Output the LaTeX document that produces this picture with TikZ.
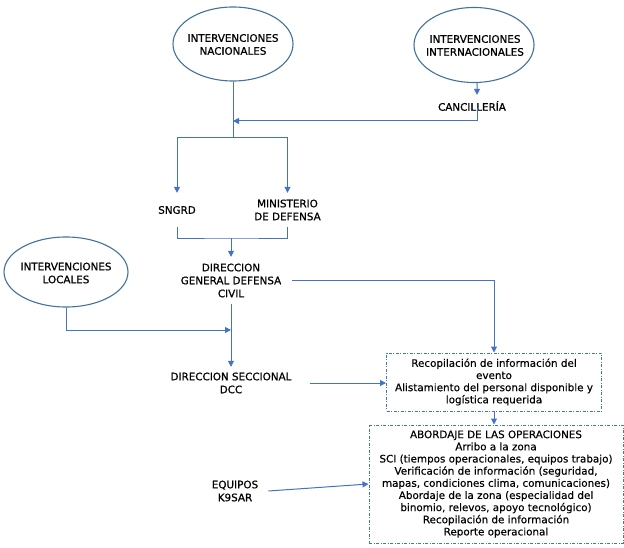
\documentclass[tikz,border=0pt]{standalone}
\usepackage{fontspec}
\setmainfont{DejaVu Sans}
\newfontfamily\lblfont{DejaVu Sans}[FakeBold=0.8]
\newfontfamily\boxfont{DejaVu Sans}[FakeBold=0.35]
\usetikzlibrary{shapes.geometric,arrows.meta}
\definecolor{lineblue}{HTML}{4472C4}
\definecolor{ellblue}{HTML}{41719C}
\begin{document}
\begin{tikzpicture}[x=1bp,y=-1bp,
  lbl/.style={font=\lblfont\fontsize{10.4}{13}\selectfont, align=center, inner sep=0pt, text=black},
  oval/.style={ellipse, draw=ellblue, line width=1.1bp, inner sep=0pt},
  dbox/.style={draw=lineblue, line width=1bp, dash pattern=on 3bp off 1.5bp on 1bp off 1.5bp,
    align=center, inner sep=0pt, text=black, font=\boxfont\fontsize{10.4}{12.2}\selectfont},
  conn/.style={draw=lineblue, line width=1bp},
  arr/.style={conn, -{Triangle[length=6bp,width=6bp]}}]
\useasboundingbox (0,0) rectangle (624,548);

% ellipses
\node[oval, minimum width=120bp, minimum height=74bp] (nac) at (233,44) {};
\node[lbl] (nact) at (233,44.5) {INTERVENCIONES\\NACIONALES};
\node[oval, minimum width=120bp, minimum height=75bp] (intl) at (474,45) {};
\node[lbl] (intlt) at (475,45.5) {INTERVENCIONES\\INTERNACIONALES};
\node[oval, minimum width=124bp, minimum height=70bp] (loc) at (66,272) {};
\node[lbl] (loct) at (66,273) {INTERVENCIONES\\LOCALES};

% labels
\node[lbl] (canc) at (472,106) {CANCILLERÍA};
\node[lbl, minimum height=34bp] (sngrd) at (177,210) {SNGRD};
\node[lbl, minimum height=34bp] (mind) at (287.5,210) {MINISTERIO\\DE DEFENSA};
\node[lbl, minimum height=47bp, inner xsep=11bp] (dgdc) at (231,280.5) {DIRECCION\\GENERAL DEFENSA\\CIVIL};
\node[lbl, minimum height=32bp, inner xsep=18bp] (dsec) at (231,383) {DIRECCION SECCIONAL\\DCC};
\node[lbl, inner xsep=10bp] (equip) at (235,491) {EQUIPOS\\K9SAR};

% boxes
\node[dbox, minimum width=215bp, minimum height=58bp] (box1) at (494,382)
  {Recopilación de información del\\evento\\Alistamiento del personal disponible y\\logística requerida};
\node[dbox, minimum width=254bp, minimum height=118bp] (box2) at (496,484)
  {ABORDAJE DE LAS OPERACIONES\\Arribo a la zona\\SCI (tiempos operacionales, equipos trabajo)\\Verificación de información (seguridad,\\mapas, condiciones clima, comunicaciones)\\Abordaje de la zona (especialidad del\\binomio, relevos, apoyo tecnológico)\\Recopilación de información\\Reporte operacional};

% junctions
\coordinate (jc) at (233,121);
\coordinate (js) at (233,138);
\coordinate (jm) at (231,238);
\coordinate (jl) at (231,330);

% connectors
\draw[arr] ([xshift=3bp]intl.south) -- ([xshift=5bp,yshift=6bp]canc.north);
\draw[arr] ([xshift=5bp,yshift=3bp]canc.south) |- (jc);
\draw[conn] (nac.south) -- (js);
\draw[arr] (js) -| (sngrd.north);
\draw[arr] (js) -| (mind.north);
\draw[conn] (sngrd.south) |- (jm) -| (mind.south);
\draw[arr] (jm) -- (dgdc.north);
\draw[arr] (dgdc.south) -- (dsec.north);
\draw[arr] (loc.south) |- (jl);
\draw[arr] (dgdc.east) -| (box1.north);
\draw[arr] (dsec.east) -- (dsec.east -| box1.west);
\draw[arr] (box1.south) -- (box1.south |- box2.north);
\draw[arr] (equip.east) -- (box2.west);
\end{tikzpicture}
\end{document}
